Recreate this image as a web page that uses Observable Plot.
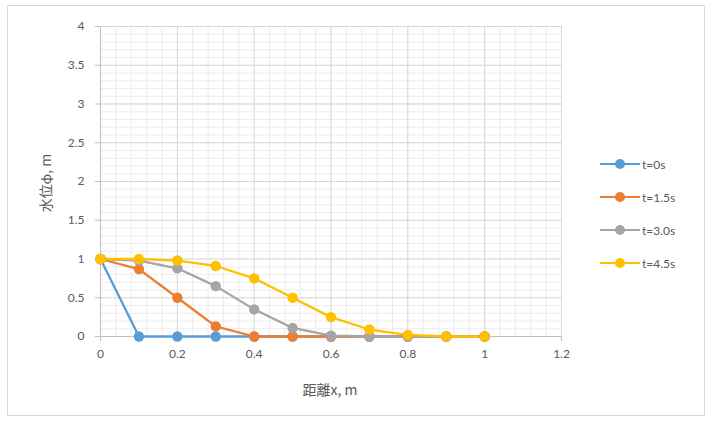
<!DOCTYPE html>
<html><head><meta charset="utf-8">
<script src="https://cdn.jsdelivr.net/npm/d3@7"></script>
<script src="https://cdn.jsdelivr.net/npm/@observablehq/plot@0.6"></script>
<style>
body{margin:0;background:#fff;font-family:Lato,"Noto Sans CJK JP",sans-serif;}
#wrap{position:relative;width:713px;height:421px;overflow:hidden;}
#frame{position:absolute;left:7px;top:5px;width:698px;height:411px;border:1px solid #d9d9d9;box-sizing:border-box;}
#chart{position:absolute;left:0;top:0;}
#legend{position:absolute;left:600px;top:156px;font-size:12px;color:#595959;}
.row{display:flex;align-items:center;height:16px;margin-bottom:17px;}
.sw{position:relative;width:40px;height:16px;margin-right:2px;}
.sw .ln{position:absolute;left:0;top:7px;width:40px;height:2.4px;}
.sw .dt{position:absolute;left:15px;top:3px;width:10px;height:10px;border-radius:50%;}
.title{position:absolute;font-size:14px;color:#595959;white-space:nowrap;font-family:"Noto Sans CJK JP",Lato,sans-serif;}
#xt{left:330px;top:389px;transform:translate(-50%,-50%);}
#yt{left:45px;top:183px;transform:translate(-50%,-50%) rotate(-90deg);}
</style></head>
<body><div id="wrap"><div id="frame"></div><div id="chart"></div><div id="legend"></div>
<div class="title" id="xt"></div><div class="title" id="yt"></div></div>
<script>
const xs = [0, 0.1, 0.2, 0.3, 0.4, 0.5, 0.6, 0.7, 0.8, 0.9, 1.0];
const seriesNames = ["t=0s", "t=1.5s", "t=3.0s", "t=4.5s"];
const seriesColors = ["#5B9BD5", "#ED7D31", "#A5A5A5", "#FFC000"];
const s0 = [1, 0, 0, 0, 0, 0, 0, 0, 0, 0, 0];
const s15 = [1, 0.87, 0.5, 0.13, 0, 0, 0, 0, 0, 0, 0];
const s30 = [1, 0.98, 0.88, 0.65, 0.35, 0.11, 0.01, 0, 0, 0, 0];
const s45 = [1, 1.0, 0.98, 0.91, 0.75, 0.5, 0.25, 0.09, 0.02, 0.0, 0];
const xTicks = [0, 0.2, 0.4, 0.6, 0.8, 1, 1.2];
const yTicks = [0, 0.5, 1, 1.5, 2, 2.5, 3, 3.5, 4];
const xMinor = d3.range(0, 1.2001, 0.04);
const yMinor = d3.range(0, 4.0001, 0.1);
const xTitle = "距離x, m";
const yTitle = "水位ϕ, m";

const allSeries = [s0, s15, s30, s45];
const data = [];
allSeries.forEach((s, i) => s.forEach((v, j) => data.push({x: xs[j], y: v, name: seriesNames[i]})));

const plot = Plot.plot({
  width: 713, height: 421,
  marginLeft: 100, marginRight: 152, marginTop: 26, marginBottom: 85,
  style: {fontFamily: 'Lato,"Noto Sans CJK JP",sans-serif', fontSize: "12px", color: "#595959", background: "transparent"},
  x: {domain: [0, 1.2]},
  y: {domain: [0, 4]},
  color: {domain: seriesNames, range: seriesColors},
  marks: [
    Plot.ruleX(xMinor, {stroke: "#ececec", strokeWidth: 1}),
    Plot.ruleY(yMinor, {stroke: "#ececec", strokeWidth: 1}),
    Plot.ruleX(xTicks, {stroke: "#d9d9d9", strokeWidth: 1}),
    Plot.ruleY(yTicks, {stroke: "#d9d9d9", strokeWidth: 1}),
    Plot.ruleY([0], {stroke: "#bfbfbf"}),
    Plot.ruleX([0], {stroke: "#bfbfbf"}),
    Plot.axisX(xTicks, {tickSize: 5, tickPadding: 8, stroke: "#bfbfbf", fill: "#595959", tickFormat: d => String(d), label: null}),
    Plot.axisY(yTicks, {tickSize: 5, tickPadding: 11, stroke: "#bfbfbf", fill: "#595959", tickFormat: d => String(d), label: null}),
    Plot.line(data, {x: "x", y: "y", z: "name", stroke: "name", strokeWidth: 2.3}),
    Plot.dot(data, {x: "x", y: "y", fill: "name", r: 5.2, stroke: null})
  ]
});
document.getElementById("chart").appendChild(plot);
document.getElementById("xt").textContent = xTitle;
document.getElementById("yt").textContent = yTitle;

const legend = document.getElementById("legend");
seriesNames.forEach((n, i) => {
  const row = document.createElement("div");
  row.className = "row";
  row.innerHTML = `<div class="sw"><div class="ln" style="background:${seriesColors[i]}"></div><div class="dt" style="background:${seriesColors[i]}"></div></div><span>${n}</span>`;
  legend.appendChild(row);
});
</script></body></html>
